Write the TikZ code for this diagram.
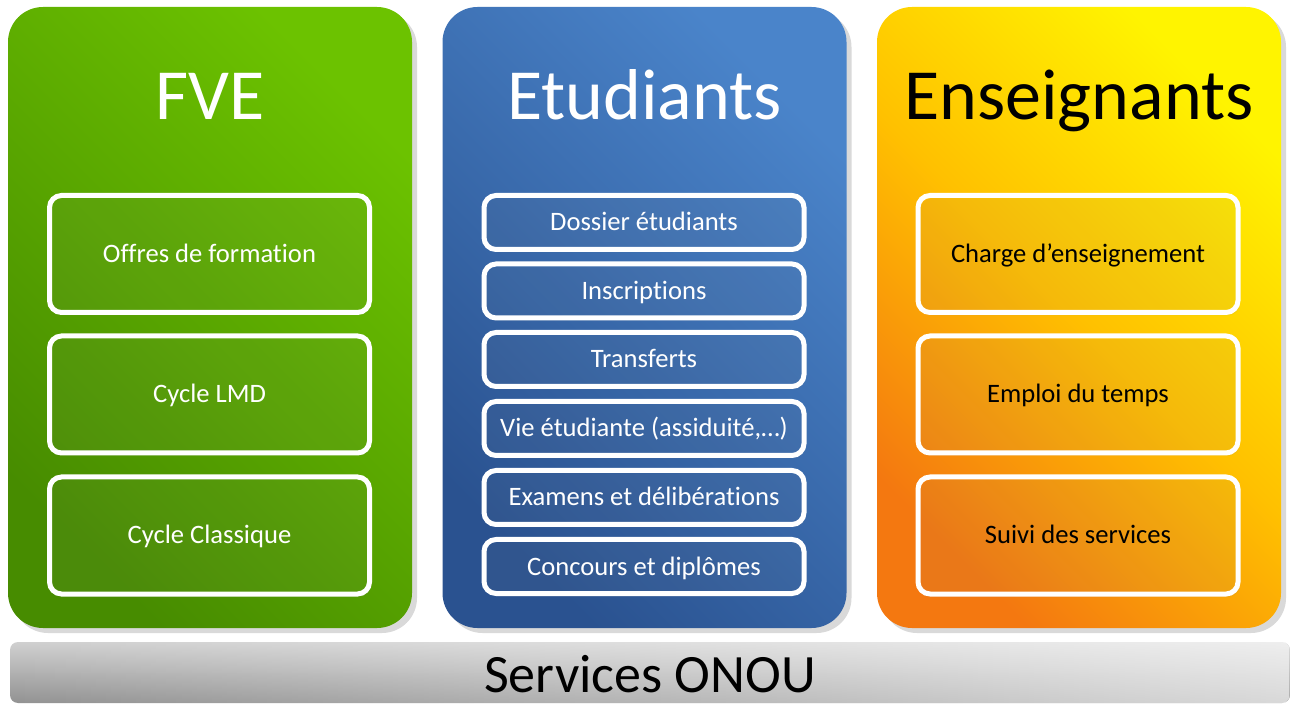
\documentclass[tikz,border=0pt]{standalone}
\usepackage{fontspec}
\setmainfont{Carlito}[Ligatures=NoCommon]
\usepackage{tikz}
\usetikzlibrary{shapes,shadows,fadings,positioning}
\definecolor{vertA}{HTML}{478C00}
\definecolor{vertB}{HTML}{6CC200}
\definecolor{bleuA}{HTML}{2A5290}
\definecolor{bleuB}{HTML}{4A84CA}
\definecolor{orangeA}{HTML}{F47810}
\definecolor{orangeM}{HTML}{FFC000}
\definecolor{orangeB}{HTML}{FFF400}
\definecolor{grisH}{HTML}{D0D0D0}
\definecolor{grisB}{HTML}{929292}
\tikzfading[name=fondu, left color=transparent!100, right color=transparent!0]

\begin{document}
\begin{tikzpicture}[x=0.5pt,y=-0.5pt]
			\tikzstyle{panneau}=[rectangle, rounded corners=17.5pt, minimum width=202pt, minimum height=310.5pt, inner sep=0pt, drop shadow={shadow xshift=2.5pt, shadow yshift=-2.5pt, opacity=0.3}]
			\tikzstyle{titre}=[anchor=base, inner sep=0pt, font=\fontsize{36}{36}\selectfont]
			\tikzstyle{bloc}=[rectangle, draw=white, line width=2.5pt, rounded corners=6pt, minimum width=160pt, inner sep=0pt, text height=8.5pt, text depth=0pt, font=\fontsize{13.3}{13.3}\selectfont, drop shadow={shadow xshift=1pt, shadow yshift=-1.5pt, opacity=0.08}]
			\tikzstyle{grand}=[bloc, minimum height=58.5pt]
			\tikzstyle{petit}=[bloc, minimum height=27pt]
			\useasboundingbox (0,0) rectangle (1291,705);
			% colonnes
			\node[panneau, left color=vertA, right color=vertB, shading angle=135] (fve) at (210,317.5) {};
			\node[panneau, left color=bleuA, right color=bleuB, shading angle=135] (etu) at (644.5,317.5) {};
			\node[panneau, left color=orangeA, right color=orangeB, middle color=orangeM, shading angle=135] (ens) at (1079,317.5) {};
			\node[titre, text=white] (fvet) at (210,120) {FVE};
			\node[titre, text=white] (etut) at (644.5,120) {Etudiants};
			\node[titre, text=black] (enst) at (1079,120) {Enseignants};
			% FVE
			\node[grand, text=white] (fve1) at (209.5,254) {Offres de formation};
			\node[grand, text=white] (fve2) at (209.5,394.5) {Cycle LMD};
			\node[grand, text=white] (fve3) at (209.5,535.5) {Cycle Classique};
			% Etudiants
			\node[petit, text=white] (etu1) at (644,222.5) {Dossier étudiants};
			\node[petit, text=white] (etu2) at (644,291) {Inscriptions};
			\node[petit, text=white] (etu3) at (644,359.5) {Transferts};
			\node[petit, text=white] (etu4) at (644,428.5) {Vie étudiante (assiduité,…)};
			\node[petit, text=white] (etu5) at (644,497.5) {Examens et délibérations};
			\node[petit, text=white] (etu6) at (644,566.5) {Concours et diplômes};
			% Enseignants
			\node[grand, text=black] (ens1) at (1078,254) {Charge d’enseignement};
			\node[grand, text=black] (ens2) at (1078,394.5) {Emploi du temps};
			\node[grand, text=black] (ens3) at (1078,535.5) {Suivi des services};
			% barre du bas
			\node[rectangle, rounded corners=4pt, minimum width=640pt, minimum height=30.5pt, inner sep=0pt, top color=grisH, bottom color=grisB] (onou) at (650,672.5) {};
			\fill[white, fill opacity=0.65, path fading=fondu, rounded corners=4pt] (onou.south west) rectangle (onou.north east);
			\node[anchor=base, inner sep=0pt, font=\fontsize{27}{27}\selectfont] (onout) at (650,692) {Services ONOU};
		\end{tikzpicture}
\end{document}
